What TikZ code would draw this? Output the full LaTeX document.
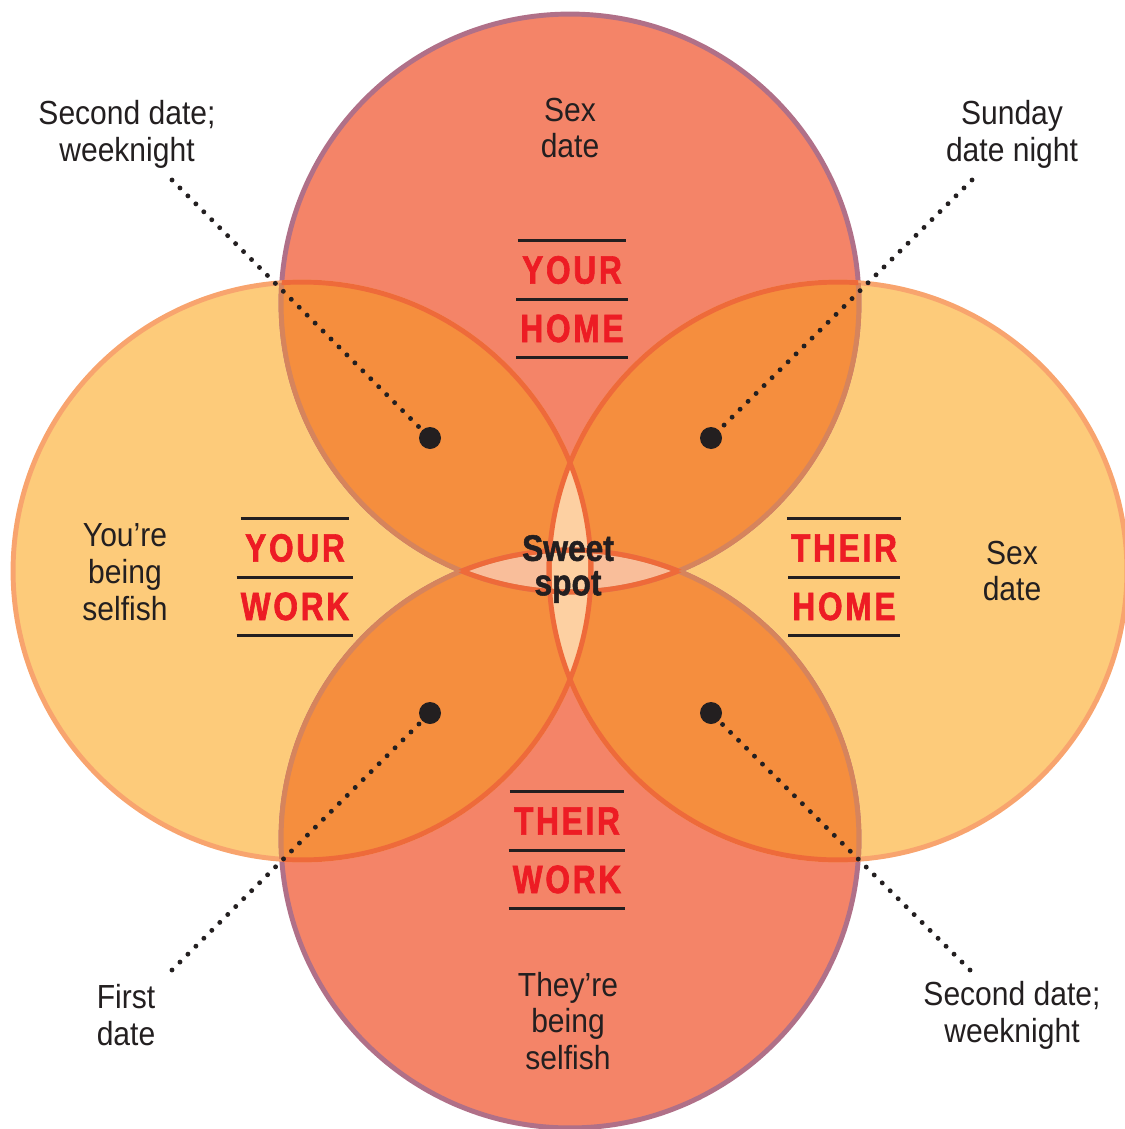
\documentclass[tikz,border=0pt]{standalone}
\usepackage{fontspec}
\setmainfont{Liberation Sans}[FakeStretch=0.9]
\newfontfamily\tagfont{Liberation Sans Bold}[FakeStretch=0.8,FakeBold=1.6,LetterSpace=7]
\newfontfamily\spotfont{Liberation Sans Bold}[FakeStretch=0.86,FakeBold=1.4]
\usetikzlibrary{positioning}

\definecolor{salmon}{RGB}{244,132,104}
\definecolor{mauve}{RGB}{176,112,136}
\definecolor{paleorange}{RGB}{253,203,122}
\definecolor{palerim}{RGB}{248,164,110}
\definecolor{deeporange}{RGB}{245,142,62}
\definecolor{redrim}{RGB}{238,106,58}
\definecolor{brownrim}{RGB}{214,132,92}
\definecolor{peach}{RGB}{253,208,162}
\definecolor{blush}{RGB}{249,190,154}
\definecolor{tagred}{RGB}{237,28,36}
\definecolor{inkgray}{RGB}{35,31,32}

\begin{document}
\begin{tikzpicture}[x=0.02cm, y=-0.02cm, line width=2.8pt,
	note node/.style={align=center, text=inkgray, font=\fontsize{19}{21}\selectfont},
	tag node/.style={text=tagred, font=\tagfont\fontsize{22.5}{22.5}\selectfont,
		inner sep=0pt, inner xsep=1pt, minimum height=1.07cm},
	rule/.style={draw=inkgray, line width=1.7pt},
	pin dot/.style={circle, fill=inkgray, minimum size=0.44cm, inner sep=0pt},
	pin line/.style={draw=inkgray, line width=2.8pt, line cap=round, dash pattern=on 0pt off 6.4pt}]

	\useasboundingbox (0,0) rectangle (1125,1129);

	\coordinate (yourhome) at (570,303);
	\coordinate (theirwork) at (570,839);
	\coordinate (yourwork) at (302,571);
	\coordinate (theirhome) at (838,571);

	% the four circles
	\fill[salmon] (yourhome) circle (5.78cm) (theirwork) circle (5.78cm);
	\fill[paleorange] (yourwork) circle (5.78cm) (theirhome) circle (5.78cm);
	\draw[mauve] (yourhome) circle (5.78cm) (theirwork) circle (5.78cm);
	\draw[palerim] (yourwork) circle (5.78cm) (theirhome) circle (5.78cm);

	% overlaps
	\foreach \c in {yourhome,theirwork}{
		\begin{scope}
			\clip (\c) circle (5.78cm);
			\fill[deeporange] (yourwork) circle (5.78cm) (theirhome) circle (5.78cm);
		\end{scope}
	}
	\begin{scope}
		\clip (yourhome) circle (5.78cm);
		\fill[blush] (theirwork) circle (5.78cm);
	\end{scope}
	\begin{scope}
		\clip (yourwork) circle (5.78cm);
		\fill[peach] (theirhome) circle (5.78cm);
	\end{scope}

	% rims where circles cross
	\foreach \c in {yourwork,theirhome}{
		\begin{scope}
			\clip (\c) circle (5.78cm);
			\draw[brownrim] (yourhome) circle (5.78cm) (theirwork) circle (5.78cm);
		\end{scope}
	}
	\foreach \c/\a in {yourhome/theirwork,theirwork/yourhome}{
		\begin{scope}
			\clip (\c) circle (5.78cm);
			\draw[redrim] (yourwork) circle (5.78cm) (theirhome) circle (5.78cm) (\a) circle (5.78cm);
		\end{scope}
	}

	% circle titles
	\foreach \nm/\x/\y/\a/\b in {yh/572/270/YOUR/HOME, yw/295/548/YOUR/WORK,
		th/844/548/THEIR/HOME, tw/567/821/THEIR/WORK}{
		\node[tag node] (\nm1) at (\x,\y) {\a};
		\node[tag node, below=0pt of \nm1] (\nm2) {\b};
		\draw[rule] (\nm1.north west) -- (\nm1.north east)
			(\nm2.north west) -- (\nm2.north east)
			(\nm2.south west) -- (\nm2.south east);
	}

	% texts inside the circles
	\node[note node] (sextop) at (570,128) {Sex\\date};
	\node[note node] (sexright) at (1012,571) {Sex\\date};
	\node[note node] (yousel) at (125,572) {You’re\\being\\selfish};
	\node[note node] (theysel) at (568,1021) {They’re\\being\\selfish};
	\node[align=center, text=inkgray, font=\spotfont\fontsize{21}{19.6}\selectfont] (sweet) at (568,569) {Sweet\\spot};

	% outside labels with their pins
	\node[note node] (secondtl) at (127,134) {Second date;\\weeknight};
	\node[note node] (sunday) at (1012,134) {Sunday\\date night};
	\node[note node] (first) at (126,1015) {First\\date};
	\node[note node] (secondbr) at (1012,1015) {Second date;\\weeknight};

	\node[pin dot] (dtl) at (430,438) {};
	\node[pin dot] (dtr) at (711,438) {};
	\node[pin dot] (dbl) at (430,713) {};
	\node[pin dot] (dbr) at (711,713) {};

	\coordinate (etl) at (172,180);
	\coordinate (etr) at (972,180);
	\coordinate (ebl) at (172,970);
	\coordinate (ebr) at (970,970);

	\draw[pin line] (etl) -- (dtl.center);
	\draw[pin line] (etr) -- (dtr.center);
	\draw[pin line] (ebl) -- (dbl.center);
	\draw[pin line] (ebr) -- (dbr.center);

\end{tikzpicture}
\end{document}
